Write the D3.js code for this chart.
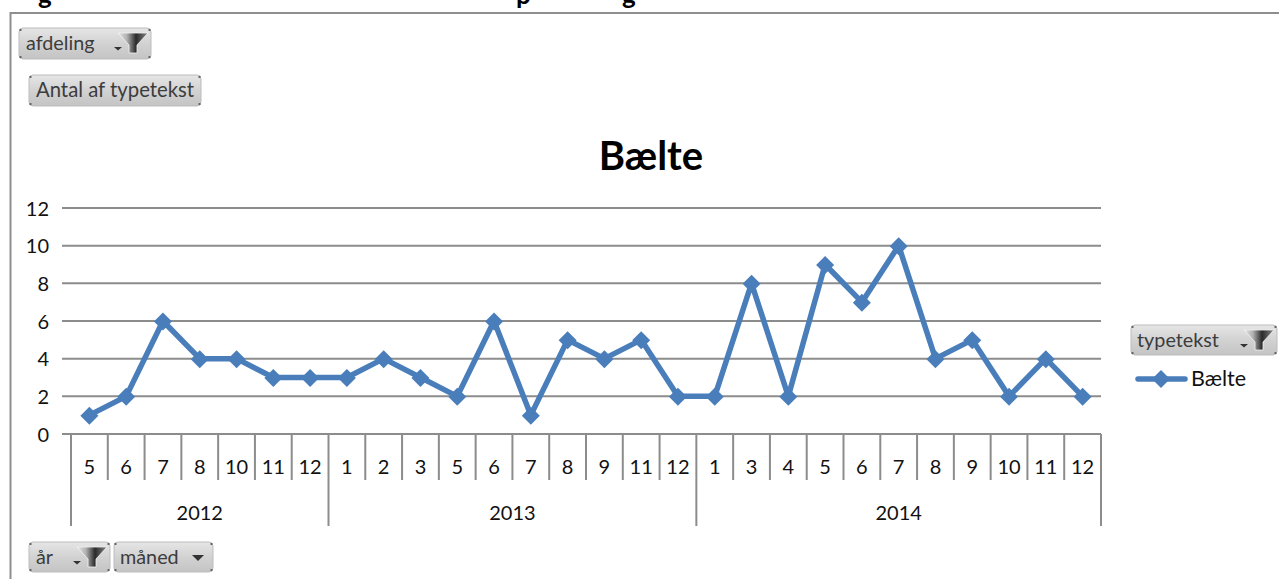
<!DOCTYPE html>
<html><head><meta charset="utf-8">
<script src="https://cdn.jsdelivr.net/npm/d3@7"></script>
<style>html,body{margin:0;padding:0;background:#fff;overflow:hidden}svg{display:block}text{font-family:Lato,"Open Sans",sans-serif}</style>
</head><body><svg id="c" width="1279" height="579"></svg>
<script>
const years = ["2012","2013","2014"];
const months2012 = ["5","6","7","8","10","11","12"];
const months2013 = ["1","2","3","5","6","7","8","9","11","12"];
const months2014 = ["1","3","4","5","6","7","8","9","10","11","12"];
const values2012 = [1,2,6,4,4,3,3];
const values2013 = [3,4,3,2,6,1,5,4,5,2];
const values2014 = [2,8,2,9,7,10,4,5,2,4,2];
const yTicks = [0,2,4,6,8,10,12];
const chartTitle = "Bælte";
const seriesName = "Bælte";

const svg = d3.select("#c");
const monthGroups = [months2012,months2013,months2014];
const valueGroups = [values2012,values2013,values2014];
const rows = monthGroups.flatMap((ms,g)=>ms.map((m,i)=>({key:years[g]+"-"+m,m,year:years[g],v:valueGroups[g][i]})));
const x = d3.scaleBand().domain(rows.map(d=>d.key)).range([71,1101]);
const y = d3.scaleLinear().domain([0,12]).range([434,208]);
const grey="#8c8c8c", blue="#4a7ebb", ink="#111";

// clipped heading fragments + frame
[["g",38],["p",516],["g",622]].forEach(([t,px])=>svg.append("text").attr("x",px).attr("y",4).attr("font-size",26).attr("font-weight",700).attr("fill","#000").text(t));
svg.append("path").attr("d","M10.5,579V13H1279").attr("fill","none").attr("stroke","#8e8e8e").attr("stroke-width",2);

// grid
svg.append("g").selectAll("line").data(yTicks.filter(d=>d>0)).join("line")
 .attr("x1",62).attr("x2",1101).attr("y1",d=>y(d)).attr("y2",d=>y(d)).attr("stroke",grey).attr("stroke-width",2);
svg.append("g").selectAll("text").data(yTicks).join("text")
 .attr("x",49).attr("y",d=>y(d)+7.5).attr("text-anchor","end").attr("font-size",20).attr("fill",ink).text(d=>d);

// axis
svg.append("line").attr("x1",62).attr("x2",1101).attr("y1",y(0)).attr("y2",y(0)).attr("stroke",grey).attr("stroke-width",2);
svg.append("g").selectAll("line").data(d3.range(rows.length+1)).join("line")
 .attr("x1",i=>x.range()[0]+i*x.step()).attr("x2",i=>x.range()[0]+i*x.step())
 .attr("y1",y(0)).attr("y2",480).attr("stroke",grey).attr("stroke-width",2);
let idx=0; const bounds=[0];
monthGroups.forEach(ms=>{idx+=ms.length;bounds.push(idx);});
svg.append("g").selectAll("line").data(bounds).join("line")
 .attr("x1",i=>x.range()[0]+i*x.step()).attr("x2",i=>x.range()[0]+i*x.step())
 .attr("y1",480).attr("y2",526).attr("stroke",grey).attr("stroke-width",2);
svg.append("g").selectAll("text").data(rows).join("text")
 .attr("x",d=>x(d.key)+x.bandwidth()/2).attr("y",474).attr("text-anchor","middle").attr("font-size",20).attr("fill",ink).text(d=>d.m);
svg.append("g").selectAll("text").data(years).join("text")
 .attr("x",(d,i)=>x.range()[0]+(bounds[i]+bounds[i+1])/2*x.step()).attr("y",520).attr("text-anchor","middle").attr("font-size",20).attr("fill",ink).text(d=>d);

// title
svg.append("text").attr("x",651).attr("y",170).attr("text-anchor","middle").attr("font-size",40).attr("font-weight",700).attr("fill","#000").text(chartTitle);

// series
const cx=d=>x(d.key)+x.bandwidth()/2;
svg.append("path").datum(rows).attr("fill","none").attr("stroke",blue).attr("stroke-width",5.5).attr("stroke-linejoin","round").attr("stroke-linecap","round")
 .attr("d",d3.line().x(cx).y(d=>y(d.v)));
svg.append("g").selectAll("path").data(rows).join("path")
 .attr("transform",d=>`translate(${cx(d)},${y(d.v)+.5})`).attr("d","M0,-9L9,0L0,9L-9,0Z").attr("fill",blue);

// legend
svg.append("line").attr("x1",1138).attr("x2",1185).attr("y1",379).attr("y2",379).attr("stroke",blue).attr("stroke-width",5.5).attr("stroke-linecap","round");
svg.append("path").attr("transform","translate(1161,379)").attr("d","M0,-9L9,0L0,9L-9,0Z").attr("fill",blue);
svg.append("text").attr("x",1191).attr("y",386).attr("font-size",21.5).attr("fill",ink).text(seriesName);

// field buttons
const defs=svg.append("defs");
const lg=defs.append("linearGradient").attr("id","btn").attr("x1",0).attr("x2",0).attr("y1",0).attr("y2",1);
lg.append("stop").attr("offset",0).attr("stop-color","#e6e6e6");
lg.append("stop").attr("offset",.5).attr("stop-color","#d2d2d2");
lg.append("stop").attr("offset",1).attr("stop-color","#c4c4c4");
const fg=defs.append("linearGradient").attr("id","fn").attr("x1",0).attr("x2",1).attr("y1",0).attr("y2",0);
fg.append("stop").attr("offset",0).attr("stop-color","#e8e8e8");
fg.append("stop").attr("offset",.3).attr("stop-color","#b0b0b0");
fg.append("stop").attr("offset",.6).attr("stop-color","#2a2a2a");
fg.append("stop").attr("offset",1).attr("stop-color","#8a8a8a");
const fields=[
 {t:"afdeling",x:19,y:28,w:132,h:31,tx:26,filter:true,fs:19.8},
 {t:"Antal af typetekst",x:29,y:75,w:172,h:31,tx:36,filter:false,fs:20.3},
 {t:"typetekst",x:1131,y:325,w:146,h:30,tx:1137,filter:true,fs:19.8},
 {t:"år",x:29,y:542,w:81,h:30,tx:36,filter:true,fs:19.8},
 {t:"måned",x:114,y:542,w:99,h:30,tx:120,filter:false,drop:true,fs:19.8}
];
fields.forEach(f=>{
 const g=svg.append("g");
 const r=f.x+f.w;
 g.append("rect").attr("x",f.x).attr("y",f.y).attr("width",f.w).attr("height",f.h).attr("rx",4).attr("fill","url(#btn)").attr("stroke","#bdbdbd");
 [[f.x+1.5,f.y+2],[r-1.5,f.y+2],[f.x+1.5,f.y+f.h-2],[r-1.5,f.y+f.h-2]].forEach(([a,b])=>
   g.append("rect").attr("x",a-1).attr("y",b-1).attr("width",2).attr("height",2).attr("fill","#666"));
 g.append("text").attr("x",f.tx).attr("y",f.y+f.h/2+6.5).attr("font-size",f.fs).attr("fill","#3c3c3c").text(f.t);
 if(f.filter){
  g.append("path").attr("d",`M${r-33},${f.y+5}h30l-11,12v8h-8v-8Z`).attr("fill","url(#fn)").attr("stroke","#f2f2f2").attr("stroke-width",.8);
  g.append("path").attr("d",`M${r-37},${f.y+19}h8l-4,3.5Z`).attr("fill","#333");
 }
 if(f.drop) g.append("path").attr("d",`M${r-21},${f.y+13}h12l-6,6Z`).attr("fill","#333");
});
</script></body></html>
